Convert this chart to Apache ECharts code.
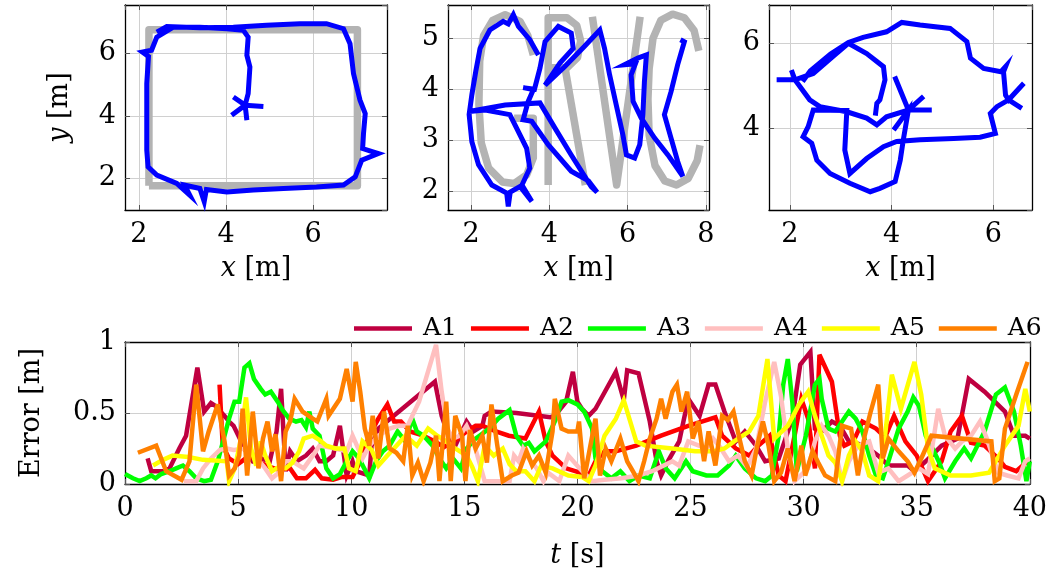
<!DOCTYPE html>
<html>
<head>
<meta charset="utf-8">
<title>Trajectories and errors</title>
<script src="https://cdn.jsdelivr.net/npm/echarts@6/dist/echarts.min.js"></script>
</head>
<body style="margin:0;background:#fff">
<div id="main" style="width:1050px;height:578px"></div>
<script>
// reference paths (gray)
var refSquare = [[[2.23,1.76],[7.02,1.76],[7.02,6.76],[2.23,6.76],[2.23,1.76]]];
var refGRVC = [
  // G
  [[3.59,4.67],[3.45,5.05],[3.25,5.33],[2.87,5.46],[2.55,5.35],[2.32,5.05],[2.22,4.55],[2.20,3.70],[2.26,2.95],[2.45,2.45],[2.80,2.18],[3.10,2.15],[3.42,2.32],[3.59,2.65],[3.59,3.43],[3.10,3.43]],
  // R
  [[3.97,2.12],[3.97,5.40],[4.45,5.40],[4.70,5.25],[4.80,4.95],[4.72,4.62],[4.45,4.42],[3.97,4.42]],
  [[4.40,4.42],[4.92,2.12]],
  // V
  [[5.10,5.42],[5.72,2.12],[6.32,5.42]],
  // C
  [[7.82,4.75],[7.70,5.15],[7.45,5.40],[7.15,5.47],[6.85,5.35],[6.65,5.00],[6.55,4.40],[6.52,3.80],[6.55,3.10],[6.70,2.50],[6.95,2.20],[7.25,2.12],[7.55,2.25],[7.78,2.60],[7.85,2.90]]
];

// estimated trajectories (blue)
var traj1 = [[4.44,4.34],[4.86,4.30],[4.44,4.34],[4.17,4.60],[4.44,4.34],[4.13,4.02],[4.44,4.34],[4.48,3.86],[4.44,4.34],
  [4.51,4.71],[4.55,5.56],[4.48,5.94],[4.51,6.52],[4.40,6.74],[4.02,6.79],[3.40,6.84],[2.79,6.84],[2.41,6.52],
  [2.29,6.10],[2.08,6.04],[2.22,5.90],[2.18,5.03],[2.18,3.96],[2.18,2.90],[2.21,2.36],[2.41,2.10],[2.87,1.83],
  [3.17,1.45],[3.05,1.78],[3.40,1.67],[3.50,1.25],[3.55,1.64],[4.02,1.56],[4.63,1.62],[5.32,1.67],[6.08,1.72],[6.70,1.78],
  [6.97,2.04],[7.12,2.58],[7.50,2.79],[7.14,2.95],[7.16,3.43],[7.20,4.07],[7.08,4.50],[6.93,5.35],[6.85,6.31],[6.70,6.79],
  [6.31,6.95],[5.70,6.95],[4.93,6.90],[4.17,6.84],[3.40,6.82],[2.64,6.86],[2.41,6.68]];
var traj2 = [[3.72,4.67],[3.50,4.97],[3.21,5.23],[3.08,5.46],[2.95,5.28],[2.82,5.33],[2.48,5.16],[2.23,4.80],[2.12,4.35],
  [2.02,3.89],[1.95,3.50],[2.02,2.97],[2.19,2.52],[2.53,2.12],[2.91,1.96],[2.95,1.70],[3.00,1.98],[3.25,2.09],[3.55,1.80],
  [3.30,2.12],[3.50,2.45],[3.42,2.84],[3.16,3.24],[2.99,3.50],[2.36,3.59],[1.95,3.56],[2.87,3.69],[3.76,3.73],[4.14,3.24],
  [4.56,2.71],[5.07,2.09],[5.22,1.98],[5.00,2.20],[4.56,2.39],[3.97,2.91],[3.55,3.37],[3.33,3.40],[3.46,3.76],[3.59,3.99],
  [3.33,4.03],[3.62,4.00],[3.76,4.41],[3.89,4.93],[4.23,5.23],[4.56,5.10],[4.61,4.80],[4.27,4.51],[3.89,4.08],[4.39,4.44],
  [4.90,4.84],[5.29,5.16],[5.41,4.80],[5.54,4.28],[5.71,3.69],[5.88,3.10],[5.97,2.71],[6.18,2.65],[6.31,2.91],[6.39,3.50],
  [6.43,4.15],[6.48,4.67],[6.26,4.61],[5.92,4.48],[6.20,4.50],[6.09,4.28],[6.14,3.76],[6.35,3.43],[6.69,3.04],[7.03,2.71],
  [7.41,2.29],[7.28,2.58],[7.11,3.04],[6.94,3.50],[7.11,3.95],[7.28,4.48],[7.45,4.93],[7.35,4.97]];
var traj3 = [[3.68,4.30],[3.71,4.59],[3.77,4.67],[3.87,5.14],[3.84,5.45],[3.51,5.76],[3.15,6.00],[2.85,5.69],[2.46,5.29],
  [2.10,5.14],[1.74,5.14],[2.10,5.14],[2.03,5.37],[2.10,5.14],[2.39,4.67],[2.59,4.51],[3.12,4.39],[3.51,4.24],[3.71,4.08],
  [3.90,4.27],[4.33,4.43],[4.79,4.43],[4.33,4.43],[4.06,5.22],[4.33,4.43],[4.63,4.75],[4.33,4.43],[4.04,3.96],[4.33,4.43],
  [4.23,3.73],[4.17,3.25],[4.07,2.75],[3.77,2.59],[3.58,2.51],[3.18,2.71],[2.79,2.94],[2.53,3.25],[2.43,3.65],[2.26,3.80],
  [2.36,4.04],[2.46,4.43],[3.12,4.42],[3.08,3.49],[3.18,2.94],[3.51,3.29],[3.84,3.57],[4.10,3.69],[4.56,3.73],[5.22,3.76],
  [5.74,3.79],[6.04,3.88],[5.94,4.35],[6.07,4.51],[6.30,4.67],[6.56,4.47],[6.30,4.67],[6.60,5.06],[6.30,4.67],[6.24,4.78],
  [6.20,5.33],[6.24,5.45],[6.15,5.33],[5.81,5.41],[5.55,5.65],[5.48,6.04],[5.15,6.35],[4.56,6.43],[4.20,6.49],[3.90,6.27],
  [3.44,6.14],[3.15,6.02],[2.80,5.75],[2.40,5.35],[2.25,5.10]];

// errors over time [t s, error m]
var a1 = [[1.0,0.18],[1.16,0.09],[1.68,0.09],[1.97,0.11],[2.4,0.25],[2.7,0.34],[3.2,0.82],[3.5,0.51],[3.8,0.57],[4.0,0.55],[4.4,0.48],[4.6,0.44],[4.8,0.41],[5.35,0.23],[5.65,0.16],[6.0,0.18],[6.4,0.16],[6.7,0.37],[6.9,0.67],[7.1,0.09],[7.3,0.23],[7.6,0.16],[8.0,0.2],[8.3,0.25],[8.6,0.16],[8.9,0.16],[9.2,0.2],[9.5,0.41],[9.8,0.06],[10.06,0.16],[10.2,0.09],[10.8,0.06],[10.9,0.27],[11.2,0.39],[13.7,0.72],[14.0,0.48],[14.3,0.34],[14.6,0.27],[15.1,0.44],[15.4,0.37],[15.8,0.41],[15.9,0.48],[16.2,0.51],[17.3,0.50],[18.8,0.47],[19.0,0.48],[19.5,0.58],[19.8,0.79],[20.0,0.58],[20.2,0.53],[20.5,0.48],[20.8,0.53],[21.7,0.79],[22.05,0.59],[22.2,0.80],[22.7,0.78],[23.2,0.44],[23.5,0.16],[23.7,0.06],[24.0,0.16],[24.5,0.30],[24.9,0.60],[25.4,0.48],[25.8,0.70],[26.1,0.70],[26.5,0.51],[27.0,0.30],[27.4,0.37],[27.9,0.27],[28.3,0.16],[28.9,0.18],[29.5,0.46],[29.85,0.84],[30.3,0.93],[30.5,0.39],[30.8,0.37],[31.25,0.44],[31.6,0.41],[32.0,0.30],[32.7,0.27],[33.3,0.2],[33.75,0.13],[34.6,0.13],[34.9,0.09],[35.4,0.16],[36.1,0.27],[36.8,0.32],[37.3,0.74],[38.0,0.65],[38.9,0.51],[39.3,0.34],[39.8,0.34],[40.0,0.32]];
var a2 = [[4.18,0.70],[4.32,0.27],[4.6,0.18],[5.0,0.14],[5.5,0.2],[6.0,0.15],[6.4,0.12],[6.8,0.1],[7.3,0.11],[7.6,0.04],[8.0,0.04],[8.4,0.10],[8.7,0.04],[9.2,0.03],[9.6,0.05],[10.06,0.05],[10.4,0.16],[10.8,0.34],[11.2,0.46],[11.6,0.56],[11.9,0.44],[12.2,0.44],[12.6,0.37],[13.2,0.34],[13.7,0.30],[14.1,0.26],[14.7,0.32],[15.1,0.37],[15.5,0.41],[15.8,0.41],[16.4,0.37],[16.97,0.34],[17.7,0.32],[18.3,0.51],[18.6,0.30],[18.9,0.20],[19.5,0.11],[19.9,0.09],[20.5,0.06],[20.8,0.16],[21.2,0.23],[21.7,0.23],[22.6,0.27],[23.7,0.34],[24.9,0.41],[26.1,0.47],[26.4,0.34],[27.0,0.25],[27.6,0.20],[28.0,0.27],[28.5,0.34],[28.9,0.06],[29.2,0.02],[29.6,0.34],[29.9,0.60],[30.2,0.46],[30.5,0.11],[30.7,0.91],[31.25,0.72],[31.6,0.34],[31.8,0.27],[32.2,0.30],[32.6,0.44],[33.2,0.39],[33.6,0.33],[34.0,0.48],[34.5,0.30],[35.0,0.20],[35.5,0.02],[36.1,0.16],[36.5,0.37],[37.0,0.48],[37.4,0.29],[38.0,0.27],[38.6,0.18],[38.9,0.12],[39.4,0.09],[39.9,0.16]];
var a3 = [[0,0.07],[0.35,0.04],[0.65,0.02],[0.94,0.04],[1.16,0.06],[1.35,0.04],[1.6,0.07],[1.97,0.09],[2.26,0.11],[2.56,0.13],[2.85,0.09],[3.15,0.04],[3.5,0.02],[3.8,0.03],[4.1,0.16],[4.4,0.34],[4.6,0.46],[4.84,0.58],[5.05,0.58],[5.28,0.82],[5.5,0.85],[5.7,0.74],[6.0,0.67],[6.2,0.63],[6.45,0.65],[6.75,0.58],[6.97,0.52],[7.26,0.46],[7.56,0.44],[7.8,0.45],[8.0,0.40],[8.15,0.51],[8.3,0.39],[8.6,0.34],[8.9,0.11],[9.2,0.04],[9.5,0.07],[9.8,0.16],[10.06,0.23],[10.35,0.18],[10.8,0.04],[11.1,0.16],[11.4,0.23],[11.7,0.27],[12.05,0.37],[12.4,0.30],[12.7,0.46],[12.9,0.37],[13.2,0.34],[13.6,0.27],[13.9,0.18],[14.2,0.11],[14.5,0.18],[14.85,0.11],[15.1,0.25],[15.5,0.32],[16.1,0.39],[16.5,0.46],[17.0,0.52],[17.3,0.34],[17.6,0.27],[17.85,0.29],[18.1,0.23],[18.6,0.30],[19.0,0.44],[19.3,0.58],[19.6,0.59],[20.0,0.56],[20.3,0.51],[20.65,0.39],[20.8,0.18],[21.1,0.09],[21.5,0.04],[21.9,0.09],[22.3,0.02],[22.7,0.06],[23.2,0.04],[23.6,0.23],[23.9,0.11],[24.3,0.04],[24.8,0.16],[25.1,0.09],[25.7,0.06],[26.2,0.06],[26.7,0.13],[27.0,0.20],[27.4,0.11],[27.9,0.04],[28.3,0.02],[28.6,0.06],[28.9,0.34],[29.1,0.70],[29.3,0.88],[29.5,0.58],[29.7,0.09],[30.1,0.34],[30.5,0.70],[30.7,0.74],[30.8,0.60],[31.1,0.39],[31.4,0.37],[31.7,0.44],[32.0,0.51],[32.3,0.46],[32.6,0.37],[32.9,0.20],[33.2,0.06],[33.5,0.04],[33.75,0.16],[34.2,0.39],[34.6,0.51],[34.85,0.61],[35.1,0.55],[35.4,0.34],[35.7,0.25],[36.0,0.15],[36.25,0.04],[36.7,0.16],[37.1,0.25],[37.4,0.18],[38.0,0.37],[38.5,0.63],[38.9,0.68],[39.3,0.51],[39.6,0.27],[39.85,0.02],[40.0,0.16]];
var a4 = [[2.6,0.02],[3.15,0.02],[3.45,0.11],[3.8,0.18],[4.2,0.24],[4.5,0.25],[4.8,0.24],[5.35,0.25],[5.6,0.22],[5.94,0.16],[6.2,0.11],[6.5,0.04],[6.8,0.08],[7.1,0.16],[7.4,0.16],[7.9,0.11],[8.3,0.20],[8.6,0.27],[9.3,0.25],[9.8,0.23],[10.06,0.34],[10.5,0.18],[10.8,0.27],[11.2,0.34],[11.7,0.39],[12.1,0.41],[12.5,0.41],[12.7,0.48],[13.0,0.58],[13.3,0.74],[13.75,0.98],[14.0,0.65],[14.25,0.39],[14.5,0.32],[14.8,0.34],[15.1,0.41],[15.4,0.30],[15.9,0.02],[16.4,0.02],[17.0,0.02],[17.2,0.20],[17.4,0.16],[17.6,0.25],[17.9,0.17],[18.2,0.11],[18.5,0.02],[18.7,0.08],[19.2,0.02],[19.6,0.20],[20.1,0.11],[20.65,0.02],[21.2,0.03],[21.95,0.04],[22.7,0.06],[23.3,0.09],[24.2,0.16],[24.5,0.13],[24.9,0.30],[25.7,0.25],[26.0,0.32],[26.3,0.26],[26.7,0.16],[27.1,0.20],[27.5,0.12],[27.9,0.25],[28.3,0.58],[28.7,0.86],[29.0,0.62],[29.3,0.25],[29.6,0.02],[30.2,0.11],[30.5,0.30],[30.8,0.41],[31.1,0.34],[31.4,0.23],[31.7,0.02],[32.0,0.16],[32.4,0.27],[32.9,0.30],[33.3,0.08],[33.75,0.11],[34.2,0.02],[34.6,0.06],[35.1,0.11],[35.5,0.07],[35.95,0.53],[36.25,0.34],[36.7,0.25],[37.0,0.30],[37.4,0.34],[37.8,0.44],[38.1,0.32],[38.6,0.08],[39.0,0.06],[39.5,0.04],[39.8,0.16],[40.0,0.18]];
var a5 = [[1.24,0.13],[1.68,0.17],[2.1,0.20],[2.8,0.19],[3.45,0.17],[4.5,0.16],[4.6,0.02],[4.85,0.11],[5.1,0.3],[5.35,0.61],[5.57,0.25],[5.8,0.13],[6.0,0.30],[6.2,0.2],[6.5,0.09],[6.8,0.12],[7.1,0.11],[7.4,0.15],[7.7,0.23],[7.9,0.32],[8.3,0.34],[8.6,0.31],[8.9,0.27],[9.3,0.25],[9.7,0.25],[9.9,0.11],[10.2,0.09],[10.5,0.30],[10.9,0.24],[11.2,0.13],[11.6,0.2],[12.0,0.27],[12.4,0.34],[12.9,0.27],[13.4,0.39],[13.8,0.34],[14.2,0.30],[14.6,0.25],[15.1,0.20],[15.35,0.12],[15.6,0.02],[15.9,0.27],[16.3,0.2],[16.7,0.25],[17.0,0.14],[17.3,0.09],[17.7,0.09],[18.1,0.02],[18.4,0.13],[18.9,0.11],[19.6,0.06],[20.2,0.05],[20.5,0.02],[20.8,0.13],[21.2,0.34],[21.7,0.46],[22.05,0.59],[22.6,0.30],[23.0,0.27],[24.2,0.25],[25.2,0.23],[26.0,0.23],[26.5,0.25],[27.1,0.32],[27.6,0.37],[28.0,0.48],[28.4,0.88],[28.7,0.32],[29.3,0.41],[29.8,0.56],[30.2,0.65],[30.5,0.48],[30.8,0.34],[31.1,0.20],[31.4,0.15],[31.7,0.02],[32.0,0.20],[32.3,0.30],[32.6,0.23],[32.9,0.06],[33.3,0.02],[33.6,0.34],[33.9,0.77],[34.3,0.53],[34.9,0.86],[35.2,0.63],[35.5,0.25],[35.8,0.11],[36.5,0.06],[37.4,0.06],[38.2,0.08],[38.9,0.27],[39.5,0.41],[39.8,0.67],[40.0,0.51]];
var a6 = [[0.57,0.22],[1.38,0.27],[1.82,0.09],[2.5,0.03],[2.85,0.16],[3.15,0.70],[3.45,0.23],[3.7,0.37],[4.1,0.56],[4.4,0.30],[4.6,0.06],[4.85,0.11],[5.05,0.2],[5.2,0.53],[5.4,0.06],[5.65,0.51],[5.9,0.11],[6.1,0.32],[6.3,0.44],[6.5,0.23],[6.65,0.35],[6.9,0.02],[7.1,0.37],[7.3,0.44],[7.5,0.60],[7.85,0.51],[8.3,0.46],[8.5,0.44],[8.9,0.60],[9.0,0.48],[9.5,0.60],[9.8,0.81],[10.06,0.58],[10.2,0.86],[10.4,0.65],[10.6,0.39],[10.8,0.27],[10.95,0.48],[11.2,0.18],[11.45,0.51],[11.7,0.25],[12.0,0.22],[12.3,0.16],[12.5,0.41],[12.7,0.06],[12.95,0.15],[13.2,0.02],[13.5,0.15],[13.75,0.34],[13.9,0.02],[14.2,0.58],[14.4,0.02],[14.6,0.48],[14.9,0.34],[15.05,0.02],[15.25,0.38],[15.5,0.25],[15.8,0.34],[16.0,0.15],[16.2,0.56],[16.45,0.28],[16.7,0.02],[17.1,0.06],[17.4,0.08],[17.75,0.23],[18.0,0.13],[18.3,0.2],[18.6,0.08],[18.9,0.37],[19.0,0.60],[19.3,0.39],[19.6,0.37],[20.0,0.37],[20.07,0.44],[20.3,0.04],[20.55,0.25],[20.8,0.46],[21.0,0.06],[21.25,0.25],[21.5,0.16],[21.9,0.32],[22.2,0.16],[22.45,0.09],[22.7,0.02],[22.95,0.16],[23.2,0.32],[23.5,0.46],[23.7,0.60],[23.9,0.46],[24.2,0.65],[24.4,0.70],[24.6,0.51],[24.85,0.65],[25.1,0.32],[25.35,0.44],[25.6,0.16],[25.8,0.37],[26.1,0.13],[26.4,0.48],[26.65,0.45],[26.9,0.51],[27.15,0.33],[27.4,0.16],[27.7,0.06],[27.95,0.27],[28.2,0.44],[28.45,0.27],[28.7,0.02],[29.0,0.08],[29.3,0.25],[29.6,0.02],[29.9,0.27],[30.07,0.06],[30.4,0.23],[30.65,0.15],[30.95,0.06],[31.4,0.02],[31.7,0.41],[32.1,0.39],[32.4,0.06],[32.7,0.34],[32.95,0.5],[33.3,0.70],[33.5,0.18],[33.75,0.32],[34.2,0.23],[34.6,0.16],[34.9,0.08],[35.2,0.18],[35.65,0.34],[38.3,0.30],[38.45,0.02],[38.65,0.04],[38.9,0.39],[39.4,0.63],[39.9,0.86]];

var errNames = ['A1','A2','A3','A4','A5','A6'];
var errData = [a1, a2, a3, a4, a5, a6];
var errColors = ['#bf0040','#ff0000','#00ff00','#ffbfbf','#ffff00','#ff8000'];

var FONT = 'DejaVu Serif';
var chart = echarts.init(document.getElementById('main'));

var grids = [
  {left:125, top:5, width:262, height:205},
  {left:448, top:5, width:261, height:205},
  {left:769, top:5, width:263, height:205},
  {left:125, top:342, width:907, height:142}
];
// [min, max, step] per grid
var xr = [[1.68,7.7,2],[1.41,8.08,2],[1.59,6.76,2],[0,40,5]];
var yr = [[0.98,7.55,2],[1.63,5.65,1],[2.08,6.9,2],[0,1,0.5]];

var nameStyle = {fontFamily:FONT, fontSize:27, color:'#000',
  rich:{i:{fontFamily:FONT, fontSize:27, fontStyle:'italic', color:'#000'}}};

function mkAxis(dim, gi, r, primary, name, gap, hideEnds) {
  var ax = {
    type:'value', gridIndex:gi, min:r[0], max:r[1], minInterval:r[2], maxInterval:r[2],
    position: dim === 'x' ? (primary ? 'bottom' : 'top') : (primary ? 'left' : 'right'),
    axisLine:{show:true, onZero:false, lineStyle:{color:'#000', width:1.3}},
    axisTick:{show:true, inside:true, length:5, lineStyle:{color:'#555', width:1}},
    axisLabel:{show:primary, fontFamily:FONT, fontSize:27, color:'#000', margin: dim === 'x' ? 11 : 9,
      showMinLabel:!hideEnds, showMaxLabel:!hideEnds},
    splitLine:{show:primary, showMinLine:false, showMaxLine:false, lineStyle:{color:'#d0d0d0', width:1}}
  };
  if (primary && name) {
    ax.name = name; ax.nameLocation = 'middle'; ax.nameGap = gap;
    ax.nameTextStyle = nameStyle;
    if (dim === 'y') ax.nameRotate = 90;
  }
  return ax;
}

var xAxes = [], yAxes = [];
for (var g = 0; g < 4; g++) {
  var hide = g < 3;
  xAxes.push(mkAxis('x', g, xr[g], true, g < 3 ? '{i|x} [m]' : '{i|t} [s]', g < 3 ? 45 : 58, hide));
  xAxes.push(mkAxis('x', g, xr[g], false));
  var yn = g === 0 ? '{i|y} [m]' : (g === 3 ? 'Error [m]' : null);
  yAxes.push(mkAxis('y', g, yr[g], true, yn, g === 0 ? 52 : 80, hide));
  yAxes.push(mkAxis('y', g, yr[g], false));
}

function refSeries(gi, paths) {
  return {type:'lines', coordinateSystem:'cartesian2d', xAxisIndex:gi*2, yAxisIndex:gi*2,
    polyline:true, silent:true, z:2,
    data: paths.map(function (p) { return {coords:p}; }),
    lineStyle:{color:'#b3b3b3', width:7.5, opacity:1, join:'round', cap:'butt'}};
}
function trajSeries(gi, pts) {
  return {type:'line', xAxisIndex:gi*2, yAxisIndex:gi*2, data:pts, showSymbol:false, symbol:'none',
    silent:true, z:3, lineStyle:{color:'#0000ff', width:5, join:'miter', miterLimit:6}};
}

var series = [
  refSeries(0, refSquare), trajSeries(0, traj1),
  refSeries(1, refGRVC), trajSeries(1, traj2),
  trajSeries(2, traj3)
];
errNames.forEach(function (n, i) {
  series.push({name:n, type:'line', xAxisIndex:6, yAxisIndex:6, data:errData[i],
    showSymbol:false, symbol:'none', z:3+i, color:errColors[i],
    lineStyle:{color:errColors[i], width:4.5, join:'miter', miterLimit:4}});
});

chart.setOption({
  animation:false,
  backgroundColor:'#fff',
  grid:grids,
  xAxis:xAxes,
  yAxis:yAxes,
  legend:{data:errNames, left:349, top:311, icon:'rect', itemWidth:58, itemHeight:4.5, itemGap:14,
    textStyle:{fontFamily:FONT, fontSize:25, color:'#000', padding:[0,0,0,6]}},
  series:series
});
</script>
</body>
</html>
